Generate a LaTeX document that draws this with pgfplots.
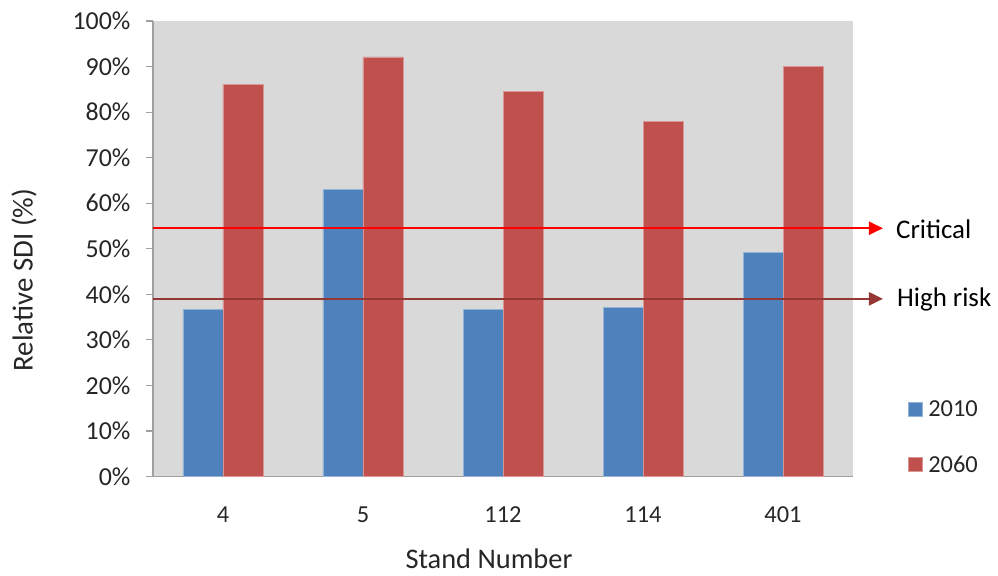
\documentclass[border=0pt]{standalone}
\usepackage{pgfplots}
\pgfplotsset{compat=1.18}
\usepackage{pgfplotstable}
\usepackage{fontspec}
\setmainfont{Carlito}
\usetikzlibrary{arrows.meta}

\definecolor{bblue}{HTML}{4F81BD}
\definecolor{bred}{HTML}{C0504D}
\definecolor{plotbg}{HTML}{D9D9D9}
\definecolor{axgray}{HTML}{A0A0A0}
\definecolor{hrisk}{HTML}{953735}
\definecolor{txt}{HTML}{262626}

% Relative SDI (%) per stand
\pgfplotstableread{
idx y2010 y2060
0 36.7 86.0
1 63.1 92.1
2 36.7 84.6
3 37.2 77.9
4 49.2 90.0
}\sditable

\begin{document}
\begin{tikzpicture}
\useasboundingbox (-153bp,-99.5bp) rectangle (845bp,476.5bp);
\begin{axis}[
  scale only axis,
  width=700bp, height=455.5bp,
  xmin=-0.5, xmax=4.5, ymin=0, ymax=100,
  clip=false,
  axis background/.style={fill=plotbg},
  axis x line*=bottom, axis y line*=left,
  axis line style={axgray, line width=1.2pt},
  tick align=outside,
  major tick length=7bp, minor tick length=7bp,
  every tick/.style={axgray, line width=1.2pt},
  /pgf/number format/assume math mode=true,
  ytick={0,10,...,100},
  yticklabel={\pgfmathprintnumber{\tick}\%},
  yticklabel style={font=\fontsize{26}{30}\selectfont, text=txt, xshift=-12bp},
  xtick={0,1,2,3,4},
  xticklabels={4,5,112,114,401},
  xtick style={draw=none},
  minor xtick={-0.5,0.5,...,4.5},
  xticklabel style={font=\fontsize{24.5}{28}\selectfont, text=txt, anchor=base, yshift=-39bp},
  xlabel={Stand Number},
  ylabel={Relative SDI (\%)},
  every axis x label/.style={at={(axis description cs:0.48,-0.203)}, anchor=base, inner sep=0pt, font=\fontsize{28.5}{32}\selectfont, text=txt},
  every axis y label/.style={at={(axis description cs:-0.1843,0.4314)}, rotate=90, anchor=center, inner sep=0pt, font=\fontsize{29}{32}\selectfont, text=txt},
  legend style={at={(axis description cs:1.0786,0.172)}, anchor=north west, draw=none, fill=none,
    font=\fontsize{24.5}{28}\selectfont, text=txt, row sep=34bp, inner sep=0pt,
    nodes={inner xsep=5.5bp}},
  legend cell align=left,
  legend image code/.code={\fill[#1] (0bp,-7bp) rectangle (14bp,7bp);},
]
\addplot[ybar, bar width=40bp, bar shift=-20bp, fill=bblue, draw=bblue!60!white, line width=0.6pt]
  table[x=idx, y=y2010] {\sditable};
\addlegendentry{2010}
\addplot[ybar, bar width=40bp, bar shift=20bp, fill=bred, draw=bred!60!white, line width=0.6pt]
  table[x=idx, y=y2060] {\sditable};
\addlegendentry{2060}

% Threshold lines
\addplot[sharp plot, red, line width=2bp, -{Triangle[length=14bp,width=13bp]}, forget plot]
  coordinates {(-0.5,54.5) (4.714,54.5)};
\addplot[sharp plot, hrisk, line width=2.5bp, -{Triangle[length=14bp,width=13bp]}, forget plot]
  coordinates {(-0.5,39.0) (4.714,39.0)};
\node[anchor=west, inner sep=0pt, font=\fontsize{27}{30}\selectfont, text=black] at (axis cs:4.807,54.3) {Critical};
\node[anchor=west, inner sep=0pt, font=\fontsize{27}{30}\selectfont, text=black] at (axis cs:4.814,38.8) {High risk};
\end{axis}
\end{tikzpicture}
\end{document}
